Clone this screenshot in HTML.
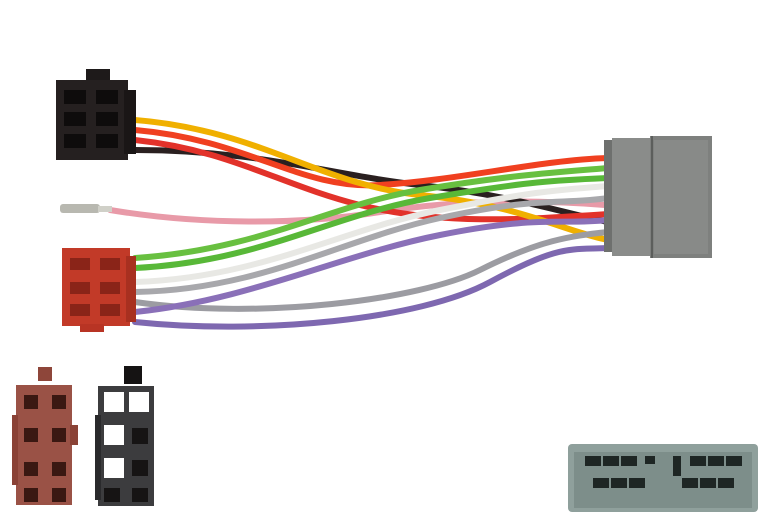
<!DOCTYPE html>
<html><head><style>html,body{margin:0;padding:0;background:#fff;}svg{display:block}</style></head><body>
<svg width="768" height="524" viewBox="0 0 768 524" xmlns="http://www.w3.org/2000/svg">
<rect width="768" height="524" fill="#fff"/>
<g fill="none" stroke-linecap="round" stroke-width="6">
<!-- pink -->
<path d="M110,210 C200,225 300,225 380,212 S540,200 605,205" stroke="#e89aa8"/>
<!-- black -->
<path d="M135,150 C260,150 330,175 420,185 S560,212 608,222" stroke="#2a2020"/>
<!-- red -->
<path d="M135,140 C230,150 280,185 360,205 S520,220 608,214" stroke="#e2322a"/>
<!-- orange/red top -->
<path d="M135,130 C250,140 300,190 380,185 S540,160 608,158" stroke="#f04020"/>
<!-- yellow -->
<path d="M135,120 C260,130 320,185 420,195 S560,230 608,240" stroke="#f0b000"/>
<!-- green -->
<path d="M135,258 C260,250 330,205 420,190 S560,172 608,168" stroke="#68c040"/>
<path d="M135,268 C260,262 330,215 430,198 S560,180 608,178" stroke="#58b838"/>
<!-- white -->
<path d="M135,282 C260,278 340,230 440,210 S560,190 608,186" stroke="#e8e8e4"/>
<!-- grey -->
<path d="M135,292 C260,290 340,240 440,218 S560,205 608,198" stroke="#a8a8ac"/>
<path d="M135,302 C260,320 420,300 480,270 S570,236 608,232" stroke="#9c9ca2"/>
<!-- purple -->
<path d="M135,312 C250,300 340,255 440,235 S560,225 608,220" stroke="#8a70b8"/>
<path d="M135,322 C260,335 420,320 490,282 S570,250 608,248" stroke="#7e68b0"/>
</g>
<!-- pink pin -->
<rect x="60" y="204" width="40" height="9" rx="3" fill="#b8b8b0"/>
<rect x="98" y="206" width="14" height="6" fill="#d0d0c8"/>
<!-- black ISO -->
<rect x="86" y="69" width="24" height="14" fill="#1e1a1a"/>
<rect x="56" y="80" width="72" height="80" fill="#252020"/>
<rect x="124" y="90" width="12" height="64" fill="#1a1616"/>
<g fill="#0e0c0c"><rect x="64" y="90" width="22" height="14"/><rect x="96" y="90" width="22" height="14"/><rect x="64" y="112" width="22" height="14"/><rect x="96" y="112" width="22" height="14"/><rect x="64" y="134" width="22" height="14"/><rect x="96" y="134" width="22" height="14"/></g>
<!-- red ISO -->
<rect x="62" y="248" width="68" height="78" fill="#c23a28"/>
<rect x="126" y="256" width="10" height="66" fill="#a83020"/>
<rect x="80" y="324" width="24" height="8" fill="#b83424"/>
<g fill="#8a2418"><rect x="70" y="258" width="20" height="12"/><rect x="100" y="258" width="20" height="12"/><rect x="70" y="282" width="20" height="12"/><rect x="100" y="282" width="20" height="12"/><rect x="70" y="304" width="20" height="12"/><rect x="100" y="304" width="20" height="12"/></g>
<!-- grey connector -->
<rect x="604" y="140" width="14" height="112" fill="#6e706e"/>
<rect x="612" y="138" width="42" height="118" fill="#8a8c8a"/>
<rect x="650" y="136" width="62" height="122" fill="#7e807e"/>
<rect x="654" y="140" width="54" height="114" fill="#888a88"/>
<line x1="652" y1="136" x2="652" y2="258" stroke="#5c5e5c" stroke-width="2"/>
<!-- bottom brown ISO -->
<rect x="38" y="367" width="14" height="14" fill="#8e463a"/>
<rect x="16" y="385" width="56" height="120" fill="#9a5246"/>
<rect x="12" y="415" width="6" height="70" fill="#8a4236"/>
<rect x="70" y="425" width="8" height="20" fill="#8a4236"/>
<g fill="#3a1812"><rect x="24" y="395" width="14" height="14"/><rect x="52" y="395" width="14" height="14"/><rect x="24" y="428" width="14" height="14"/><rect x="52" y="428" width="14" height="14"/><rect x="24" y="462" width="14" height="14"/><rect x="52" y="462" width="14" height="14"/><rect x="24" y="488" width="14" height="14"/><rect x="52" y="488" width="14" height="14"/></g>
<!-- bottom black ISO -->
<rect x="124" y="366" width="18" height="18" fill="#151313"/>
<rect x="98" y="386" width="56" height="120" fill="#3c3c3e"/>
<rect x="95" y="415" width="6" height="85" fill="#2a2a2c"/>
<g fill="#fff"><rect x="104" y="392" width="20" height="20"/><rect x="129" y="392" width="20" height="20"/><rect x="104" y="425" width="20" height="20"/><rect x="104" y="458" width="20" height="20"/></g>
<g fill="#161414"><rect x="132" y="428" width="16" height="16"/><rect x="132" y="460" width="16" height="16"/><rect x="104" y="488" width="16" height="14"/><rect x="132" y="488" width="16" height="14"/></g>
<!-- bottom grey connector -->
<rect x="568" y="444" width="190" height="68" rx="4" fill="#8fa09c"/>
<rect x="574" y="452" width="178" height="56" fill="#7d8e8a"/>
<g fill="#1e2624"><rect x="585" y="456" width="16" height="10"/><rect x="603" y="456" width="16" height="10"/><rect x="621" y="456" width="16" height="10"/><rect x="690" y="456" width="16" height="10"/><rect x="708" y="456" width="16" height="10"/><rect x="726" y="456" width="16" height="10"/><rect x="593" y="478" width="16" height="10"/><rect x="611" y="478" width="16" height="10"/><rect x="629" y="478" width="16" height="10"/><rect x="682" y="478" width="16" height="10"/><rect x="700" y="478" width="16" height="10"/><rect x="718" y="478" width="16" height="10"/><rect x="645" y="456" width="10" height="8"/><rect x="673" y="456" width="8" height="20"/></g>
</svg>
</body></html>
